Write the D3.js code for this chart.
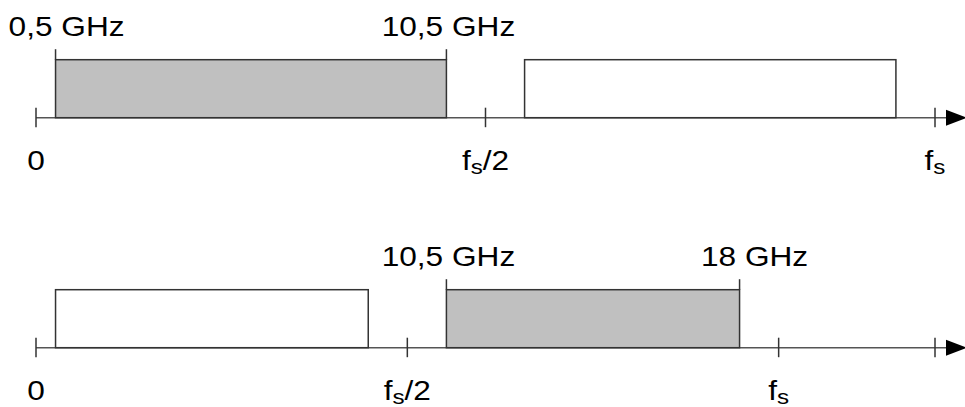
<!DOCTYPE html>
<html>
<head>
<meta charset="utf-8">
<script src="https://cdn.jsdelivr.net/npm/d3@7"></script>
<style>
  body { margin: 0; background: #fff; }
  text { font-family: "Liberation Sans", Arial, sans-serif; fill: #000; }
</style>
</head>
<body>
<svg id="chart"></svg>
<script>
// Data (GHz)
const axisMax = 23;                       // fs of the top spectrum
const topSignal = [0.5, 10.5];
const topAlias = [12.5, 22];
const topTicks = [0, 11.5, 23];
const topTickLabels = ["0", "fs/2", "fs"];
const topEdgeLabels = ["0,5 GHz", "10,5 GHz"];

const bottomSignal = [10.5, 18];
const bottomAlias = [0.5, 8.5];
const bottomTicks = [0, 9.5, 19, 23];
const bottomTickLabels = ["0", "fs/2", "fs", ""];
const bottomEdgeLabels = ["10,5 GHz", "18 GHz"];

// Size
const width = 965;
const height = 407;
const stretch = 1.15;

const svg = d3.select("#chart")
    .attr("width", width)
    .attr("height", height);

const x = d3.scaleLinear()
    .domain([0, axisMax])
    .range([36, 935]);

function drawPanel(axisY, signal, alias, ticks, tickLabels, edgeLabels, edgeDx) {
    const y = d3.scaleLinear().domain([0, 1]).range([axisY, axisY - 58]);
    const g = svg.append("g");

    // axis line + arrow
    g.append("line")
        .attr("x1", x(0)).attr("x2", 946)
        .attr("y1", axisY).attr("y2", axisY)
        .attr("stroke", "#555").attr("stroke-width", 1.5);
    g.append("path")
        .attr("d", `M946,${axisY - 8}L967,${axisY}L946,${axisY + 8}Z`)
        .attr("fill", "#000");

    // ticks
    g.selectAll(".tick")
        .data(ticks)
        .enter()
        .append("line")
        .attr("x1", d => x(d)).attr("x2", d => x(d))
        .attr("y1", axisY - 10).attr("y2", axisY + 9.5)
        .attr("stroke", "#333").attr("stroke-width", 1.5);

    // alias band (white) and signal band (grey)
    g.append("rect")
        .attr("x", x(alias[0]))
        .attr("y", y(1))
        .attr("width", x(alias[1]) - x(alias[0]))
        .attr("height", y(0) - y(1))
        .attr("fill", "#fff").attr("stroke", "#333").attr("stroke-width", 1.5);
    g.append("rect")
        .attr("x", x(signal[0]))
        .attr("y", y(1))
        .attr("width", x(signal[1]) - x(signal[0]))
        .attr("height", y(0) - y(1))
        .attr("fill", "#c0c0c0").attr("stroke", "#333").attr("stroke-width", 1.5);

    // band edge markers
    g.selectAll(".edge")
        .data(signal)
        .enter()
        .append("line")
        .attr("x1", d => x(d)).attr("x2", d => x(d))
        .attr("y1", y(1) - 10.5).attr("y2", y(1))
        .attr("stroke", "#333").attr("stroke-width", 1.5);

    // edge labels
    g.selectAll(".edge-label")
        .data(signal)
        .enter()
        .append("text")
        .attr("transform", (d, i) => `translate(${x(d) + edgeDx[i]},${axisY - 82}) scale(${stretch},1)`)
        .attr("text-anchor", "middle")
        .style("font-size", "27.5px")
        .text((d, i) => edgeLabels[i]);

    // tick labels
    const lbl = g.selectAll(".tick-label")
        .data(ticks)
        .enter()
        .append("text")
        .attr("transform", d => `translate(${x(d)},${axisY + 52}) scale(${stretch},1)`)
        .attr("text-anchor", "middle")
        .style("font-size", "27.5px");

    lbl.each(function (d, i) {
        const t = d3.select(this);
        const s = tickLabels[i];
        if (s.startsWith("fs")) {
            t.append("tspan").text("f");
            t.append("tspan").attr("dy", 4).style("font-size", "21px").text("s");
            if (s.length > 2) t.append("tspan").attr("dy", -4).text(s.slice(2));
        } else {
            t.text(s);
        }
    });
}

drawPanel(117.7, topSignal, topAlias, topTicks, topTickLabels, topEdgeLabels, [11, 2]);
drawPanel(347.7, bottomSignal, bottomAlias, bottomTicks, bottomTickLabels, bottomEdgeLabels, [2, 15]);
</script>
</body>
</html>
